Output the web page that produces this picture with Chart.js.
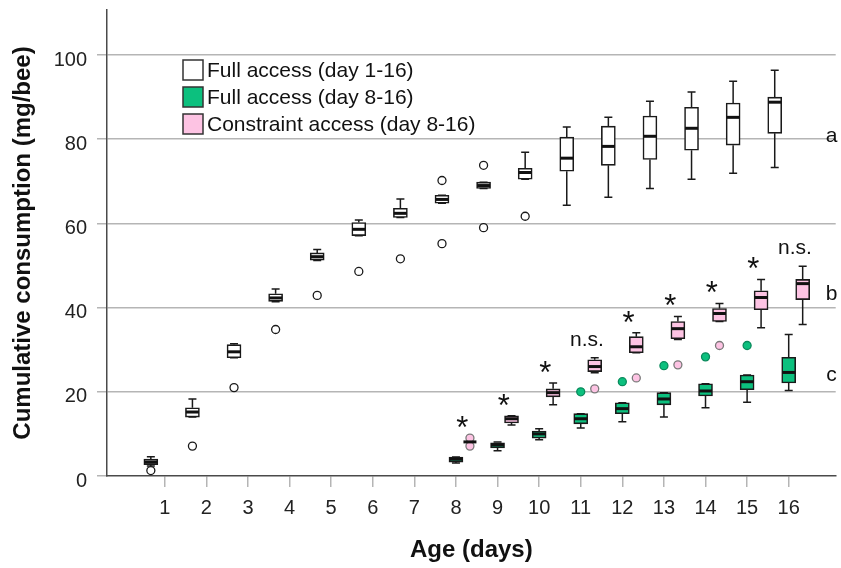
<!DOCTYPE html>
<html>
<head>
<meta charset="utf-8">
<script src="https://cdn.jsdelivr.net/npm/chart.js@4/dist/chart.umd.min.js"></script>
<style>
  html, body { margin: 0; padding: 0; background: #fff; }
</style>
</head>
<body>
<canvas id="chart" width="841" height="568"></canvas>
<script>
// Días y series
const days = [1, 2, 3, 4, 5, 6, 7, 8, 9, 10, 11, 12, 13, 14, 15, 16];
const lateDays = [8, 9, 10, 11, 12, 13, 14, 15, 16];
const yTicks = [0, 20, 40, 60, 80, 100];

const legendLabels = ['Full access (day 1-16)', 'Full access (day 8-16)', 'Constraint access (day 8-16)'];

// Full access (day 1-16)
const whiteLow  = [2.4, 14.0, 28.1, 41.4, 51.2, 57.1, 61.4, 64.8, 68.3, 70.5, 64.3, 66.2, 68.3, 70.5, 71.9, 73.3];
const whiteQ1   = [2.7, 14.0, 28.1, 41.5, 51.3, 57.1, 61.4, 64.8, 68.3, 70.5, 72.4, 73.8, 75.2, 77.4, 78.6, 81.4];
const whiteMed  = [3.3, 15.2, 29.5, 42.3, 52.1, 58.6, 62.4, 65.7, 69.0, 72.1, 75.5, 78.3, 80.7, 82.6, 85.2, 88.8];
const whiteQ3   = [4.0, 16.2, 31.2, 43.3, 53.0, 60.2, 63.6, 66.7, 69.8, 73.1, 80.5, 83.1, 85.5, 87.6, 88.6, 90.0];
const whiteHigh = [4.6, 18.3, 31.4, 44.4, 53.8, 60.8, 65.8, 66.7, 69.8, 76.9, 82.9, 85.2, 89.0, 91.2, 93.8, 96.4];
const whiteOut  = [[1.3], [7.1], [21.0], [34.8], [42.9], [48.6], [51.6], [70.2, 55.2], [73.8, 59.0], [61.7], [], [], [], [], [], []];

// Full access (day 8-16)
const greenLow  = [3.1, 6.0, 8.6, 11.4, 12.9, 14.0, 16.2, 17.5, 20.3];
const greenQ1   = [3.3, 6.7, 9.0, 12.4, 14.8, 16.9, 19.0, 20.5, 22.1];
const greenMed  = [4.0, 7.4, 10.0, 13.6, 16.0, 18.3, 20.2, 22.4, 24.6];
const greenQ3   = [4.5, 7.9, 10.7, 14.8, 17.4, 19.8, 21.9, 24.0, 28.2];
const greenHigh = [4.5, 8.1, 11.2, 14.8, 17.4, 19.8, 21.9, 24.0, 33.6];
const greenOut  = [[], [], [], [20.0], [22.4], [26.2], [28.3], [31.0], []];

// Constraint access (day 8-16)
const pinkLow  = [8.1, 12.1, 16.9, 24.5, 29.3, 32.4, 36.7, 35.2, 36.0];
const pinkQ1   = [8.1, 12.6, 18.8, 24.8, 29.3, 32.6, 36.7, 39.5, 41.9];
const pinkMed  = [8.1, 13.6, 19.8, 26.0, 30.7, 35.0, 38.6, 42.4, 45.7];
const pinkQ3   = [8.1, 14.3, 20.7, 27.6, 33.1, 36.7, 39.8, 44.0, 46.7];
const pinkHigh = [8.1, 14.3, 22.1, 28.1, 34.0, 37.9, 41.0, 46.7, 49.8];
const pinkOut  = [[9.0, 7.1], [], [], [20.7], [23.3], [26.4], [31.0], [], []];

// Significancia por día (8-16) y letras de grupo
const sigLabels = ['*', '*', '*', 'n.s.', '*', '*', '*', '*', 'n.s.'];
const groupLetters = ['a', 'b', 'c'];
const groupLetterY = [80.7, 43.2, 24.0];

const FONT = 'Arial, "Liberation Sans", sans-serif';
const OFFSET = 0.336;   // separación entre cajas del mismo día (en días)
const BOX_W = 14;
const CAP_W = 8;

const series = [
  { label: legendLabels[0], days: days, low: whiteLow, q1: whiteQ1, med: whiteMed, q3: whiteQ3, high: whiteHigh, out: whiteOut,
    offset: -OFFSET, fill: '#ffffff', pointFill: '#ffffff', pointBorder: '#1a1a1a' },
  { label: legendLabels[1], days: lateDays, low: greenLow, q1: greenQ1, med: greenMed, q3: greenQ3, high: greenHigh, out: greenOut,
    offset: 0, fill: '#0cc07e', pointFill: '#0cc07e', pointBorder: '#0a8a5c' },
  { label: legendLabels[2], days: lateDays, low: pinkLow, q1: pinkQ1, med: pinkMed, q3: pinkQ3, high: pinkHigh, out: pinkOut,
    offset: OFFSET, fill: '#fdc3e3', pointFill: '#fdc3e3', pointBorder: '#7a7a7a' }
];

const boxDatasets = series.map(s => ({
  type: 'bar',
  label: s.label,
  data: s.days.map((d, i) => ({ x: d + s.offset, y: [s.q1[i], s.q3[i]] })),
  backgroundColor: s.fill,
  borderColor: '#1a1a1a',
  borderWidth: 1.6,
  borderSkipped: false,
  barThickness: BOX_W,
  grouped: false,
  order: 2
}));

const outlierDatasets = series.map(s => {
  const pts = [];
  s.days.forEach((d, i) => s.out[i].forEach(v => pts.push({ x: d + s.offset, y: v })));
  return {
    type: 'scatter',
    label: s.label + ' outliers',
    data: pts,
    pointRadius: 4,
    pointBorderWidth: 1.3,
    backgroundColor: s.pointFill,
    borderColor: s.pointBorder,
    order: 1
  };
});

const boxPlotPlugin = {
  id: 'boxPlot',
  beforeDatasetsDraw(chart) {
    const { ctx, scales: { x, y } } = chart;
    ctx.save();
    ctx.strokeStyle = '#1a1a1a';
    ctx.lineWidth = 1.5;
    series.forEach(s => {
      s.days.forEach((d, i) => {
        const px = x.getPixelForValue(d + s.offset);
        ctx.beginPath();
        ctx.moveTo(px, y.getPixelForValue(s.low[i]));
        ctx.lineTo(px, y.getPixelForValue(s.q1[i]));
        ctx.moveTo(px, y.getPixelForValue(s.q3[i]));
        ctx.lineTo(px, y.getPixelForValue(s.high[i]));
        [s.low[i], s.high[i]].forEach(v => {
          const py = y.getPixelForValue(v);
          ctx.moveTo(px - CAP_W / 2, py);
          ctx.lineTo(px + CAP_W / 2, py);
        });
        ctx.stroke();
      });
    });
    ctx.restore();
  },
  afterDatasetsDraw(chart) {
    const { ctx, scales: { x, y } } = chart;
    ctx.save();
    // medianas
    ctx.strokeStyle = '#111';
    ctx.lineWidth = 3;
    series.forEach(s => {
      s.days.forEach((d, i) => {
        const px = x.getPixelForValue(d + s.offset);
        const py = y.getPixelForValue(s.med[i]);
        ctx.beginPath();
        ctx.moveTo(px - BOX_W / 2 + 0.5, py);
        ctx.lineTo(px + BOX_W / 2 - 0.5, py);
        ctx.stroke();
      });
    });

    // marcas de significancia sobre las cajas rosadas
    ctx.fillStyle = '#111';
    ctx.textAlign = 'center';
    ctx.textBaseline = 'alphabetic';
    const pink = series[2];
    lateDays.forEach((d, i) => {
      const top = Math.max(pink.high[i], ...pink.out[i]);
      const cy = y.getPixelForValue(top) - 18;
      const px = x.getPixelForValue(d + 0.15);
      if (sigLabels[i] === '*') {
        ctx.font = '31px ' + FONT;
        ctx.fillText('*', px, cy + 18);
      } else {
        ctx.font = '21px ' + FONT;
        ctx.fillText(sigLabels[i], px, cy + 6);
      }
    });

    // letras de grupo
    ctx.font = '21px ' + FONT;
    ctx.textBaseline = 'middle';
    groupLetters.forEach((l, i) => {
      ctx.fillText(l, x.getPixelForValue(17.03), y.getPixelForValue(groupLetterY[i]));
    });

    // leyenda
    ctx.textAlign = 'left';
    ctx.font = '21px ' + FONT;
    series.forEach((s, i) => {
      const top = 60 + i * 27;
      ctx.fillStyle = s.fill;
      ctx.fillRect(183, top, 20, 20);
      ctx.strokeStyle = '#333';
      ctx.lineWidth = 1.5;
      ctx.strokeRect(183, top, 20, 20);
      ctx.fillStyle = '#111';
      ctx.fillText(s.label, 207, top + 11);
    });
    ctx.restore();
  }
};

const tickFont = { family: FONT, size: 20 };
const titleFont = { family: FONT, size: 24, weight: 'bold' };

new Chart(document.getElementById('chart'), {
  type: 'bar',
  data: { datasets: [...boxDatasets, ...outlierDatasets] },
  options: {
    responsive: false,
    animation: false,
    events: [],
    layout: { padding: { top: 10, right: 3, left: 0, bottom: 0 } },
    plugins: { legend: { display: false }, tooltip: { enabled: false } },
    scales: {
      x: {
        type: 'linear',
        min: -0.39,
        max: 17.13,
        offset: false,
        afterBuildTicks: s => { s.ticks = days.map(d => ({ value: d })); },
        afterFit: s => { s.height = 92; s.paddingLeft = 0; s.paddingRight = 0; },
        grid: { offset: false, drawOnChartArea: false, drawTicks: true, tickLength: 11, tickColor: '#b5b5b5', lineWidth: 1.5 },
        border: { color: '#4a4a4a', width: 1.5 },
        ticks: { font: tickFont, color: '#222', padding: 9, maxRotation: 0, autoSkip: false },
        title: { display: true, text: 'Age (days)', font: titleFont, color: '#111', padding: { top: 0, bottom: 3 } }
      },
      y: {
        min: 0,
        max: 110.7,
        afterBuildTicks: s => { s.ticks = yTicks.map(v => ({ value: v })); },
        afterFit: s => { s.width = 107; s.paddingTop = 0; s.paddingBottom = 0; },
        grid: {
          color: c => (c.tick && c.tick.value === 0 ? 'rgba(0,0,0,0)' : '#b5b5b5'),
          tickColor: '#b5b5b5',
          lineWidth: 1.5,
          tickLength: 10
        },
        border: { color: '#4a4a4a', width: 1.5 },
        ticks: { font: tickFont, color: '#222', padding: 10, labelOffset: 5 },
        title: { display: true, text: 'Cumulative consumption (mg/bee)', font: titleFont, color: '#111', padding: { top: 9 } }
      }
    }
  },
  plugins: [boxPlotPlugin]
});
</script>
</body>
</html>
